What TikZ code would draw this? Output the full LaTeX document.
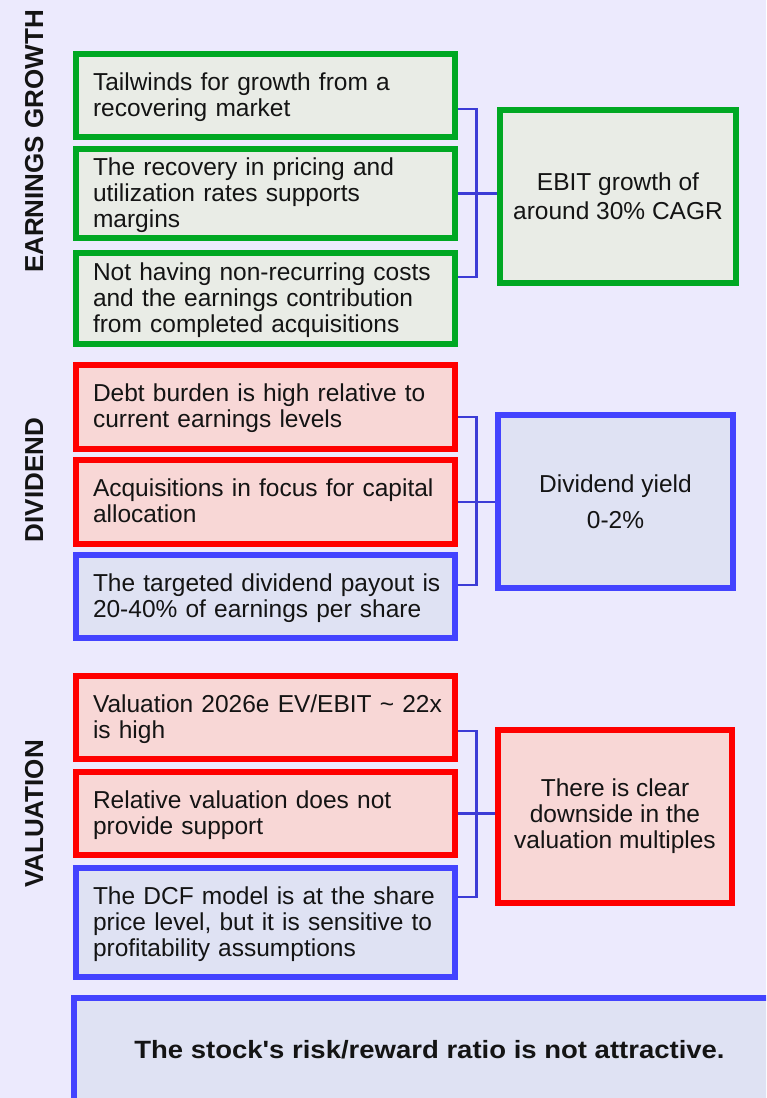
\documentclass[tikz,border=0pt]{standalone}
\usepackage{fontspec}
\setmainfont{Liberation Sans}
\definecolor{bgc}{RGB}{236,234,253}
\definecolor{gstroke}{RGB}{0,168,35}
\definecolor{gfillc}{RGB}{233,236,230}
\definecolor{rstroke}{RGB}{255,0,0}
\definecolor{rfillc}{RGB}{248,215,214}
\definecolor{bstroke}{RGB}{67,67,255}
\definecolor{bfillc}{RGB}{223,226,243}
\definecolor{connc}{RGB}{60,60,214}
\definecolor{txt}{RGB}{20,20,20}
\newcommand{\lines}[1]{\raisebox{0pt}[\dimexpr\height+5pt\relax][\depth]{\begin{tabular}{@{}l@{}}#1\end{tabular}}}
\begin{document}
\begin{tikzpicture}[x=1pt,y=-1pt,
  every node/.style={font=\fontsize{24.5}{26}\selectfont, text=txt},
  leftbox/.style={draw, line width=6pt, minimum width=379pt, text width=345pt,
    align=left, inner xsep=17pt, inner ysep=0pt},
  rightbox/.style={draw, line width=6pt, align=center, inner sep=0pt},
  greenbox/.style={draw=gstroke, fill=gfillc},
  redbox/.style={draw=rstroke, fill=rfillc},
  bluebox/.style={draw=bstroke, fill=bfillc},
  sidelabel/.style={rotate=90, anchor=base, font=\fontsize{26}{28}\selectfont\bfseries},
  conn/.style={draw=connc, line width=2.5pt}]
\fill[bgc] (0,0) rectangle (766,1098);
\useasboundingbox (0,0) rectangle (766,1098);
\renewcommand{\arraystretch}{1}
\setlength{\tabcolsep}{0pt}

% side labels
\node[sidelabel] (lg) at (43,141.5) {EARNINGS GROWTH};
\node[sidelabel] (ld) at (43,480) {DIVIDEND};
\node[sidelabel] (lv) at (43,814) {VALUATION};

% connector junction coordinates
\coordinate (t1) at (476.5,109);
\coordinate (u1) at (476.5,277);
\coordinate (t2) at (476.5,417);
\coordinate (u2) at (476.5,585);
\coordinate (t3) at (476.5,731);
\coordinate (u3) at (476.5,897);

% earnings growth
\node[leftbox, greenbox, minimum height=83pt] (b1) at (265.5,95.5)
  {\lines{Tailwinds for growth from a\\recovering market}};
\node[leftbox, greenbox, minimum height=89pt] (b2) at (265.5,193.5)
  {\lines{The recovery in pricing and\\utilization rates supports\\margins}};
\node[leftbox, greenbox, minimum height=91pt] (b3) at (265.5,298.5)
  {\lines{Not having non-recurring costs\\and the earnings contribution\\from completed acquisitions}};
\node[rightbox, greenbox, minimum width=236pt, minimum height=173pt] (r1) at (618,196.5)
  {EBIT growth of\\[3pt]around 30\% CAGR};

% dividend
\node[leftbox, redbox, minimum height=84pt] (b4) at (265.5,407)
  {\lines{Debt burden is high relative to\\current earnings levels}};
\node[leftbox, redbox, minimum height=84pt] (b5) at (265.5,502)
  {\lines{Acquisitions in focus for capital\\allocation}};
\node[leftbox, bluebox, minimum height=83pt] (b6) at (265.5,596.5)
  {\lines{The targeted dividend payout is\\20-40\% of earnings per share}};
\node[rightbox, bluebox, minimum width=235pt, minimum height=173pt] (r2) at (615.5,501.5)
  {Dividend yield\\[10pt]0-2\%};

% valuation
\node[leftbox, redbox, minimum height=83pt] (b7) at (265.5,717.5)
  {\lines{Valuation 2026e EV/EBIT \textasciitilde{} 22x\\is high}};
\node[leftbox, redbox, minimum height=83pt] (b8) at (265.5,813.5)
  {\lines{Relative valuation does not\\provide support}};
\node[leftbox, bluebox, minimum height=109pt] (b9) at (265.5,922.5)
  {\lines{The DCF model is at the share\\price level, but it is sensitive to\\profitability assumptions}};
\node[rightbox, redbox, minimum width=234pt, minimum height=173pt] (r3) at (615,816.5)
  {There is clear\\downside in the\\valuation multiples};

% connectors
\draw[conn] (b1.east |- t1) -- (t1) -- (u1) -- (b3.east |- u1);
\draw[conn] (b2.east) -- (b2.east -| r1.west);
\draw[conn] (b4.east |- t2) -- (t2) -- (u2) -- (b6.east |- u2);
\draw[conn] (b5.east) -- (b5.east -| r2.west);
\draw[conn] (b7.east |- t3) -- (t3) -- (u3) -- (b9.east |- u3);
\draw[conn] (b8.east) -- (b8.east -| r3.west);

% conclusion
\begin{scope}
\clip (0,0) rectangle (766,1098);
\node[draw=bstroke, fill=bfillc, line width=6pt, minimum width=711pt, minimum height=105pt,
  inner sep=0pt] (concl) at (429.5,1050)
  {\scalebox{1.1}[1]{\fontsize{25}{28}\selectfont\bfseries The stock\textquotesingle s risk/reward ratio is not attractive.}};
\end{scope}
\end{tikzpicture}
\end{document}
